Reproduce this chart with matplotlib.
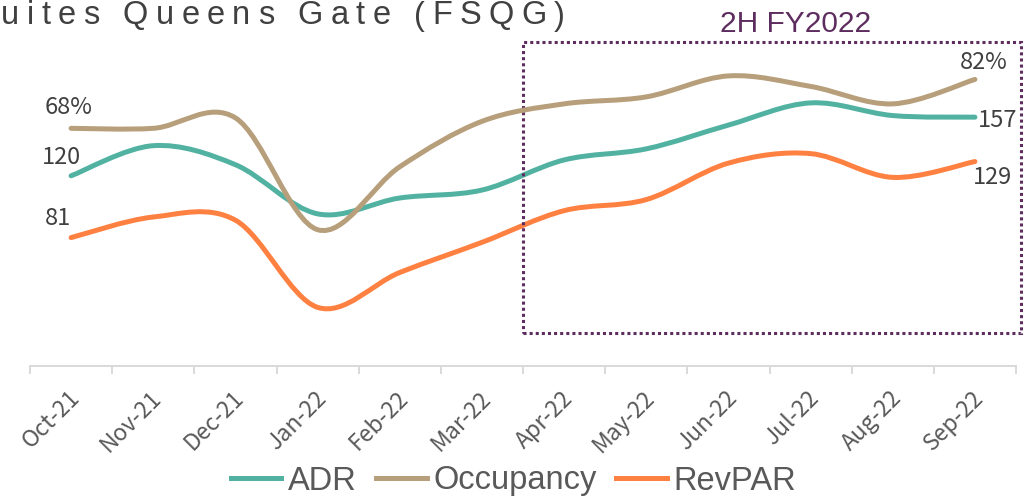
import numpy as np
import matplotlib
matplotlib.use("Agg")
import matplotlib.pyplot as plt
from matplotlib.path import Path
from matplotlib.patches import PathPatch, Rectangle
from matplotlib.lines import Line2D
from matplotlib import font_manager
from matplotlib.font_manager import FontProperties
from matplotlib.ft2font import FT2Font
import matplotlib.transforms as mtransforms

# ---------------- data ----------------
months = ["Oct-21", "Nov-21", "Dec-21", "Jan-22", "Feb-22", "Mar-22",
          "Apr-22", "May-22", "Jun-22", "Jul-22", "Aug-22", "Sep-22"]
adr = [120, 139, 127, 96, 106, 111, 130, 137, 152, 166, 158, 157]
occupancy = [68, 68, 71, 39, 57, 70, 75, 77, 83, 80, 75, 82]
revpar = [81, 94, 92, 37, 59, 78, 98, 105, 128, 134, 119, 129]
series_names = ["ADR", "Occupancy", "RevPAR"]
title_text = "uites Queens Gate (FSQG)"   # part of the title visible in the source
period_text = "2H FY2022"

# ---------------- style ----------------
W, H, DPI = 1031, 499, 100
C_ADR = "#52B2A2"
C_OCC = "#B79F7B"
C_REV = "#FF8142"
C_BOX = "#5E2D60"
C_TXT = "#404040"
C_TICK = "#595959"
C_AXIS = "#D9D9D9"
LW = 3.6

LIGHT = dict(family=["Noto Sans CJK SC", "DejaVu Sans"], weight="light")
SANS = ["Liberation Sans", "DejaVu Sans"]

fig = plt.figure(figsize=(W / DPI, H / DPI), dpi=DPI)
fig.patch.set_facecolor("white")

ax_left, ax_right = 30, 1016
ax_bottom_px, ax_top_px = 366, 30
ax = fig.add_axes([ax_left / W, 1 - ax_bottom_px / H,
                   (ax_right - ax_left) / W, (ax_bottom_px - ax_top_px) / H])
ax2 = ax.twinx()
ax.set_xlim(-0.5, len(months) - 0.5)
ax.set_ylim(0, (ax_bottom_px - ax_top_px) / 1.585)
ax2.set_ylim(0, (ax_bottom_px - ax_top_px) / 3.495)


def smooth_patch(axis, xs, ys, color):
    """Excel-like smoothed line (Catmull-Rom as cubic Bezier)."""
    xs = np.asarray(xs, float)
    ys = np.asarray(ys, float)
    pts = np.column_stack([xs, ys])
    n = len(pts)
    verts = [pts[0]]
    codes = [Path.MOVETO]
    for i in range(n - 1):
        p0 = pts[i - 1] if i > 0 else pts[i]
        p1 = pts[i]
        p2 = pts[i + 1]
        p3 = pts[i + 2] if i + 2 < n else pts[i + 1]
        c1 = p1 + (p2 - p0) / 6.0
        c2 = p2 - (p3 - p1) / 6.0
        verts += [c1, c2, p2]
        codes += [Path.CURVE4] * 3
    patch = PathPatch(Path(verts, codes), fill=False, edgecolor=color,
                      lw=LW, capstyle="round", joinstyle="round")
    axis.add_patch(patch)


x = np.arange(len(months))
smooth_patch(ax, x, adr, C_ADR)
smooth_patch(ax, x, revpar, C_REV)
smooth_patch(ax2, x, occupancy, C_OCC)

# ---------------- axes styling ----------------
for a in (ax, ax2):
    for s in ("top", "right", "left"):
        a.spines[s].set_visible(False)
    a.set_yticks([])
ax2.spines["bottom"].set_visible(False)
ax.spines["bottom"].set_color(C_AXIS)
ax.spines["bottom"].set_linewidth(1.4)

ax.set_xticks(x)
ax.set_xticks(np.arange(-0.5, len(months), 1.0), minor=True)
ax.tick_params(axis="x", which="major", length=0, pad=17)
ax.tick_params(axis="x", which="minor", length=6, width=1.4, color=C_AXIS)
ax.set_xticklabels(months, rotation=45, ha="right", va="center",
                   rotation_mode="anchor", color=C_TICK, fontsize=16.5,
                   **LIGHT)
offset = mtransforms.ScaledTranslation(5 / DPI, -5 / DPI, fig.dpi_scale_trans)
for lab in ax.get_xticklabels():
    lab.set_transform(lab.get_transform() + offset)

# ---------------- period box ----------------
blend = mtransforms.blended_transform_factory(ax.transData, ax.transAxes)
box = Rectangle((5.5, 0.098), 11.56 - 5.5, 0.964 - 0.098, transform=blend,
                fill=False, edgecolor=C_BOX, lw=2.2, linestyle=(0, (1, 1)),
                clip_on=False)
ax.add_patch(box)
fig.text(796 / W, 1 - 31.7 / H, period_text, ha="center", va="baseline",
         color=C_BOX, fontsize=21.5, family=SANS)

# ---------------- data labels ----------------
lab_kw = dict(textcoords="offset pixels", ha="center", va="center",
              color=C_TXT, fontsize=17, **LIGHT)
ax2.annotate(f"{occupancy[0]}%", xy=(x[0], occupancy[0]), xytext=(-3, 21), **lab_kw)
ax.annotate(f"{adr[0]}", xy=(x[0], adr[0]), xytext=(-10, 18), **lab_kw)
ax.annotate(f"{revpar[0]}", xy=(x[0], revpar[0]), xytext=(-13, 19), **lab_kw)
ax2.annotate(f"{occupancy[-1]}%", xy=(x[-1], occupancy[-1]), xytext=(9, 17), **lab_kw)
ax.annotate(f"{adr[-1]}", xy=(x[-1], adr[-1]), xytext=(23, -3), **lab_kw)
ax.annotate(f"{revpar[-1]}", xy=(x[-1], revpar[-1]), xytext=(18, -16), **lab_kw)

# ---------------- legend ----------------
handles = [Line2D([], [], color=c, lw=LW) for c in (C_ADR, C_OCC, C_REV)]
leg = fig.legend(handles, series_names, loc="center", bbox_to_anchor=(513.5 / W, 1 - 481 / H),
                 ncol=3, frameon=False, handlelength=1.55, handletextpad=0.2,
                 columnspacing=0.6, prop=FontProperties(family=SANS, size=23.5))
for t in leg.get_texts():
    t.set_color(C_TICK)

# ---------------- letter-spaced title ----------------
title_pt = 23.5
fp = FontProperties(family=SANS, size=title_pt)
ft = FT2Font(font_manager.findfont(fp))
ft.set_size(title_pt, DPI)
advs = [ft.load_char(ord(ch)).linearHoriAdvance / 65536.0 for ch in title_text]
x_first, x_end = 1.0, 565.0
spacing = (x_end - x_first - sum(advs)) / (len(title_text) - 1)
cur = x_first
for ch, a in zip(title_text, advs):
    if ch != " ":
        fig.text(cur / W, 1 - 24.5 / H, ch, ha="left", va="baseline",
                 color=C_TXT, fontproperties=fp)
    cur += a + spacing

fig.savefig("out.png", dpi=DPI, facecolor="white")
